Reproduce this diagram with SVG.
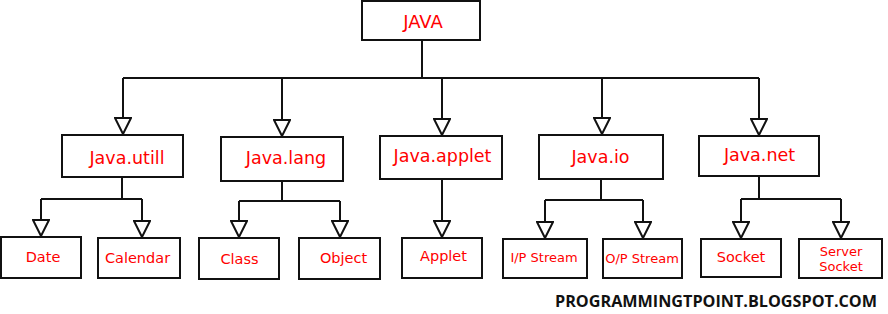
<svg xmlns="http://www.w3.org/2000/svg" width="888" height="314" viewBox="0 0 888 314">
  <style>
    .box { fill: #ffffff; stroke: #111111; stroke-width: 2; }
    .wire { fill: none; stroke: #111111; stroke-width: 2; }
    .lbl { font-family: "DejaVu Sans", sans-serif; fill: #ff0000; text-anchor: middle; }
    .l0 { font-size: 18px; }
    .l1 { font-size: 17.5px; }
    .l2 { font-size: 14.5px; }
    .l3 { font-size: 13px; }
    .foot { font-family: "Open Sans", "Liberation Sans", sans-serif; font-weight: bold; font-size: 16px; fill: #111111; }
  </style>
  <defs>
    <!-- hollow triangle head, tip at the end of the line -->
    <marker id="head" viewBox="0 0 18 18" markerWidth="18" markerHeight="18" refX="17" refY="9" orient="auto" markerUnits="userSpaceOnUse">
      <path d="M1,1 L17,9 L1,17 Z" fill="#ffffff" stroke="#111111" stroke-width="2" stroke-linejoin="miter"/>
    </marker>
  </defs>

  <rect width="888" height="314" fill="#ffffff"/>

  <g id="connectors">
    <!-- root to packages -->
    <path class="wire" d="M422,40 V78 M123,78 H759"/>
    <path class="wire" d="M123,78 V134" marker-end="url(#head)"/>
    <path class="wire" d="M282,78 V136" marker-end="url(#head)"/>
    <path class="wire" d="M442,78 V135" marker-end="url(#head)"/>
    <path class="wire" d="M602,78 V134" marker-end="url(#head)"/>
    <path class="wire" d="M759,78 V135" marker-end="url(#head)"/>
    <!-- java.utill -->
    <path class="wire" d="M122,177 V199 M41,199 H142"/>
    <path class="wire" d="M41,199 V236" marker-end="url(#head)"/>
    <path class="wire" d="M142,199 V237" marker-end="url(#head)"/>
    <!-- java.lang -->
    <path class="wire" d="M282,181 V201 M239,201 H340"/>
    <path class="wire" d="M239,201 V237" marker-end="url(#head)"/>
    <path class="wire" d="M340,201 V237" marker-end="url(#head)"/>
    <!-- java.applet -->
    <path class="wire" d="M442,179 V237" marker-end="url(#head)"/>
    <!-- java.io -->
    <path class="wire" d="M601,179 V200 M545,200 H643"/>
    <path class="wire" d="M545,200 V238" marker-end="url(#head)"/>
    <path class="wire" d="M643,200 V238" marker-end="url(#head)"/>
    <!-- java.net -->
    <path class="wire" d="M759,176 V199 M741,199 H841"/>
    <path class="wire" d="M741,199 V238" marker-end="url(#head)"/>
    <path class="wire" d="M841,199 V238" marker-end="url(#head)"/>
  </g>

  <g id="java">
    <rect class="box" x="362" y="1" width="118" height="39"/>
    <text class="lbl l0" x="423" y="28">JAVA</text>
  </g>

  <g id="java-utill">
    <rect class="box" x="62" y="135" width="121" height="42"/>
    <text class="lbl l1" x="127" y="164">Java.utill</text>
  </g>
  <g id="java-lang">
    <rect class="box" x="221" y="137" width="122" height="44"/>
    <text class="lbl l1" x="286" y="164">Java.lang</text>
  </g>
  <g id="java-applet">
    <rect class="box" x="380" y="136" width="122" height="43"/>
    <text class="lbl l1" x="442.5" y="162">Java.applet</text>
  </g>
  <g id="java-io">
    <rect class="box" x="539" y="135" width="124" height="44"/>
    <text class="lbl l1" x="600.5" y="162.5">Java.io</text>
  </g>
  <g id="java-net">
    <rect class="box" x="699" y="136" width="120" height="40"/>
    <text class="lbl l1" x="759.5" y="161">Java.net</text>
  </g>

  <g id="date">
    <rect class="box" x="1" y="237" width="80" height="41"/>
    <text class="lbl l2" x="43" y="262">Date</text>
  </g>
  <g id="calendar">
    <rect class="box" x="98" y="238" width="82" height="40"/>
    <text class="lbl l2" x="137.5" y="263">Calendar</text>
  </g>
  <g id="class">
    <rect class="box" x="199" y="238" width="80" height="41"/>
    <text class="lbl l2" x="239.5" y="264">Class</text>
  </g>
  <g id="object">
    <rect class="box" x="299" y="238" width="81" height="41"/>
    <text class="lbl l2" x="343.5" y="263">Object</text>
  </g>
  <g id="applet">
    <rect class="box" x="402" y="238" width="80" height="40"/>
    <text class="lbl l2" x="443.5" y="261">Applet</text>
  </g>
  <g id="ip-stream">
    <rect class="box" x="503" y="239" width="84" height="39"/>
    <text class="lbl l3" x="544" y="262">I/P Stream</text>
  </g>
  <g id="op-stream">
    <rect class="box" x="603" y="239" width="79" height="39"/>
    <text class="lbl l3" x="642" y="263">O/P Stream</text>
  </g>
  <g id="socket">
    <rect class="box" x="701" y="239" width="80" height="38"/>
    <text class="lbl l2" x="741" y="262">Socket</text>
  </g>
  <g id="server-socket">
    <rect class="box" x="799" y="239" width="83" height="39"/>
    <text class="lbl l3" x="841" y="256">Server</text>
    <text class="lbl l3" x="841" y="271">Socket</text>
  </g>

  <text class="foot" x="555" y="307" textLength="322" lengthAdjust="spacingAndGlyphs">PROGRAMMINGTPOINT.BLOGSPOT.COM</text>
</svg>
